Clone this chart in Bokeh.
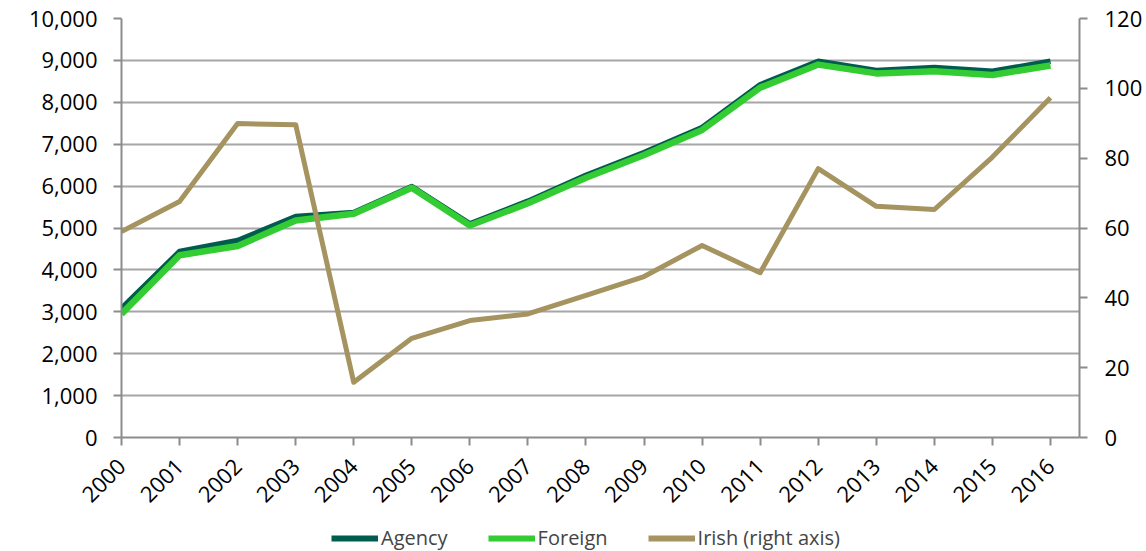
import math
from bokeh.plotting import figure
from bokeh.layouts import column
from bokeh.models import (LinearAxis, Range1d, FixedTicker, NumeralTickFormatter,
                          Legend, LegendItem)
from bokeh.embed import file_html
from bokeh.resources import INLINE

years = list(range(2000, 2017))
agency = [3080, 4440, 4700, 5275, 5370, 5990, 5100, 5640, 6260, 6800, 7400,
          8420, 8980, 8760, 8830, 8740, 8980]
foreign = [2950, 4350, 4570, 5180, 5340, 5960, 5060, 5590, 6200, 6740, 7340,
           8350, 8900, 8690, 8740, 8650, 8880]
irish = [59.0, 67.6, 89.9, 89.6, 15.8, 28.4, 33.5, 35.4, 40.7, 46.1, 55.0,
         47.2, 77.0, 66.2, 65.3, 80.3, 97.3]
left_ticks = list(range(0, 10001, 1000))
right_ticks = list(range(0, 121, 20))
series_names = ["Agency", "Foreign", "Irish (right axis)"]
series_values = [agency, foreign, irish]
colors = ["#005c4e", "#33cc33", "#a59460"]

FONT = "Open Sans"
FS = "22px"
GRID = "#a6a6a6"
AXIS = "#8c8c8c"

p = figure(width=1146, height=515, output_backend="svg", toolbar_location=None,
           x_range=Range1d(2000, 2016.5), y_range=Range1d(0, 10000),
           min_border_left=121, min_border_right=67, min_border_top=18,
           min_border_bottom=78)
p.outline_line_color = None
p.extra_y_ranges = {"irish": Range1d(0, 120)}

p.line(years, agency, line_color=colors[0], line_width=5.5, line_join="round")
p.line(years, foreign, line_color=colors[1], line_width=6.5, line_join="round")
p.line(years, irish, line_color=colors[2], line_width=5, line_join="round",
       y_range_name="irish")

p.xgrid.visible = False
p.ygrid.ticker = FixedTicker(ticks=left_ticks)
p.ygrid.grid_line_color = GRID
p.ygrid.grid_line_width = 2

def style(ax):
    ax.axis_line_color = AXIS
    ax.axis_line_width = 2
    ax.major_tick_line_color = AXIS
    ax.major_tick_line_width = 2
    ax.major_tick_in = 0
    ax.major_tick_out = 8
    ax.minor_tick_line_color = None
    ax.major_label_text_font = FONT
    ax.major_label_text_font_size = FS
    ax.major_label_text_color = "#000000"

yl = p.yaxis[0]
yl.ticker = FixedTicker(ticks=left_ticks)
yl.formatter = NumeralTickFormatter(format="0,0")
yl.major_label_standoff = 16
style(yl)

yr = LinearAxis(y_range_name="irish", ticker=FixedTicker(ticks=right_ticks))
style(yr)
yr.major_label_standoff = 17
p.add_layout(yr, "right")

xa = p.xaxis[0]
xa.ticker = FixedTicker(ticks=years)
xa.major_label_orientation = math.pi / 4
style(xa)
xa.major_tick_out = 8
xa.major_label_standoff = 17

# legend strip below the chart (its lines lie outside this strip's view)
lf = figure(width=1146, height=36, output_backend="svg", toolbar_location=None,
            x_range=Range1d(0, 1), y_range=Range1d(-1e6, -1e6 + 1),
            min_border_left=121, min_border_right=67, min_border_top=0,
            min_border_bottom=0)
lf.axis.visible = False
lf.grid.visible = False
lf.outline_line_color = None
lines = [lf.line(x=years, y=v, line_color=c, line_width=6)
         for v, c in zip(series_values, colors)]
legend = Legend(items=[LegendItem(label=n, renderers=[r]) for n, r in zip(series_names, lines)],
                orientation="horizontal", location=(210, 0),
                label_text_font=FONT, label_text_font_size="20px",
                glyph_width=47, label_standoff=3, spacing=40,
                border_line_color=None, background_fill_alpha=0,
                padding=0, margin=0)
lf.add_layout(legend, "center")

layout = column(p, lf, spacing=0)
open("out.html", "w").write(file_html(layout, INLINE))
